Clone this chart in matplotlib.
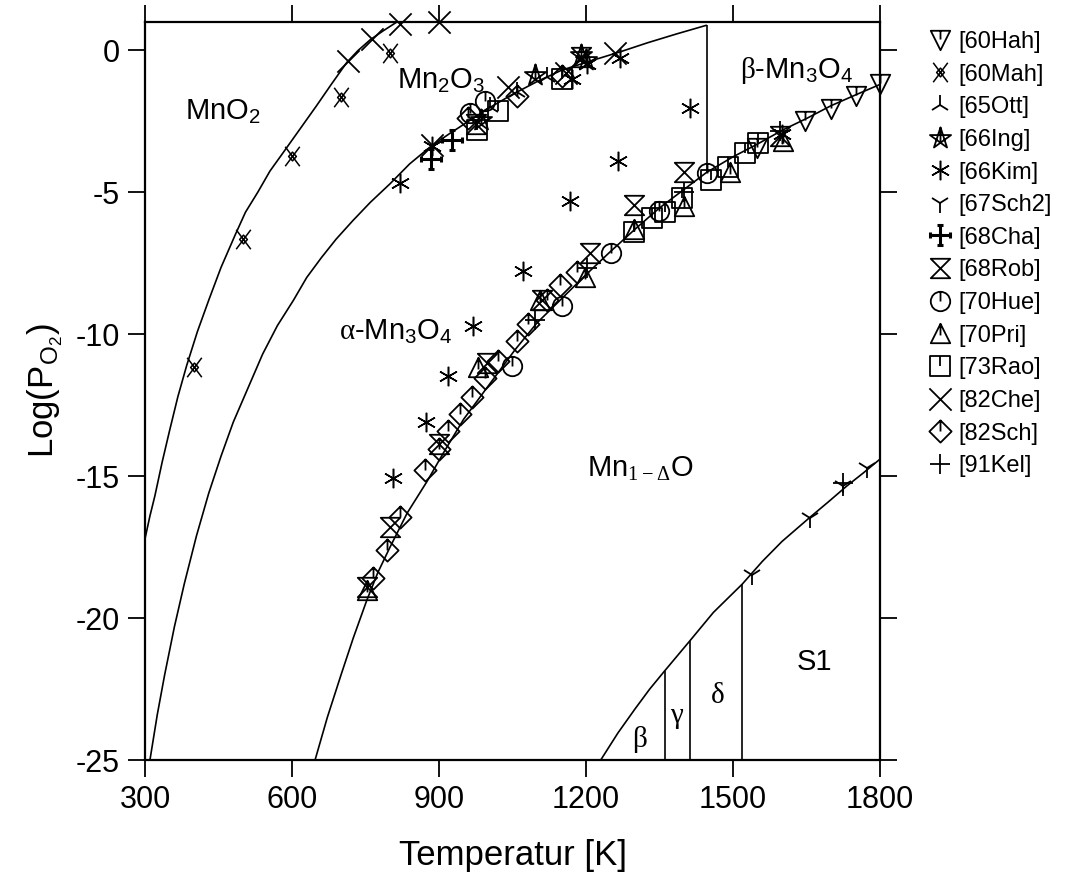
import numpy as np
import matplotlib
matplotlib.use("Agg")
import matplotlib.pyplot as plt
from matplotlib.path import Path

plt.rcParams['font.family'] = ['Liberation Sans', 'DejaVu Sans']
plt.rcParams['mathtext.fontset'] = 'custom'
plt.rcParams['mathtext.rm'] = 'Liberation Sans'
plt.rcParams['mathtext.it'] = 'Liberation Sans:italic'
plt.rcParams['mathtext.sf'] = 'Liberation Serif'
plt.rcParams['mathtext.default'] = 'regular'
plt.rcParams['axes.unicode_minus'] = False

# phase boundaries
c1_T = [300, 310, 320, 335, 350, 367, 385, 407, 430, 455, 484, 505, 530, 555, 582,
        615, 650, 680, 712, 735, 760, 787, 814]
c1_L = [-17.2, -16.4, -15.7, -14.5, -13.4, -12.2, -11.1, -9.9, -8.8, -7.65, -6.5, -5.7,
        -5.0, -4.25, -3.6, -2.8, -1.95, -1.2, -0.42, 0.0, 0.38, 0.7, 1.0]

c2_T = [310, 325, 340, 360, 380, 405, 430, 455, 480, 510, 540, 570, 603, 630, 660, 690,
        724, 760, 800, 840, 882, 920, 960, 1005, 1050, 1100, 1150, 1208, 1270, 1326, 1385, 1445]
c2_L = [-25, -23.4, -22.0, -20.3, -18.8, -17.1, -15.6, -14.3, -13.1, -11.9, -10.7, -9.7,
        -8.8, -8.0, -7.3, -6.65, -6.0, -5.35, -4.7, -4.0, -3.4, -2.95, -2.5, -2.0, -1.55,
        -1.1, -0.7, -0.38, -0.05, 0.27, 0.58, 0.88]

c3_T = [647, 672, 700, 725, 752, 775, 800, 835, 875, 910, 950, 980, 1010, 1055, 1100,
        1153, 1200, 1249, 1300, 1350, 1400, 1446, 1500, 1550, 1602, 1650, 1700, 1750, 1800]
c3_L = [-25, -23.5, -22.0, -20.7, -19.4, -18.4, -17.5, -16.3, -15.2, -14.15, -13.0, -12.3,
        -11.6, -10.55, -9.6, -8.7, -7.9, -7.1, -6.3, -5.55, -4.9, -4.3, -3.75, -3.3, -2.8,
        -2.4, -1.95, -1.57, -1.2]

c4_T = [1230, 1265, 1300, 1330, 1361, 1412, 1460, 1519, 1560, 1600, 1657, 1695, 1732, 1765, 1800]
c4_L = [-25, -24.05, -23.2, -22.5, -21.85, -20.8, -19.8, -18.8, -18.0, -17.3, -16.45,
        -15.9, -15.35, -14.9, -14.4]

# vertical boundaries: T, lower, upper
vert_T = [1446, 1361, 1412, 1519]
vert_lo = [-4.3, -25, -25, -25]
vert_hi = [0.88, -21.85, -20.8, -18.8]

# experimental points
hah_T = [1548, 1647, 1701, 1752, 1800]
hah_L = [-3.45, -2.5, -2.08, -1.62, -1.2]
mah_T = [400, 500, 600, 700, 800]
mah_L = [-11.15, -6.65, -3.73, -1.65, -0.08]
ott_T = [1005, 1060, 1120]
ott_L = [-2.0, -1.45, -0.95]
ing_T = [985, 1096, 1190, 1200]
ing_L = [-2.45, -0.85, -0.15, -0.35]
kim_T = [807, 820, 873, 885, 919, 970, 1072, 1167, 1171, 1201, 1266, 1269, 1412, 1599]
kim_L = [-15.07, -4.67, -13.1, -3.37, -11.46, -9.7, -7.78, -5.31, -1.02, -0.49, -3.9, -0.26, -2.02, -2.96]
sch2_T = [1538, 1657, 1725, 1773]
sch2_L = [-18.48, -16.48, -15.36, -14.72]
cha_T = [884, 926]
cha_L = [-3.84, -3.17]
rob_T = [752, 800, 899, 997, 1110, 1208, 1297, 1399, 1596, 975, 1190]
rob_L = [-18.9, -16.8, -13.85, -11.0, -8.8, -7.15, -5.45, -4.3, -3.0, -2.6, -0.25]
hue_T = [963, 994, 1048, 1150, 1250, 1348, 1446]
hue_L = [-2.2, -1.8, -11.13, -9.0, -7.13, -5.66, -4.31]
pri_T = [752, 980, 1106, 1198, 1297, 1399, 1494, 1603]
pri_L = [-19.0, -11.15, -8.8, -8.0, -6.3, -5.5, -4.3, -3.2]
rao_T = [977, 1020, 1150, 1297, 1334, 1361, 1395, 1456, 1490, 1524, 1552]
rao_L = [-2.8, -2.15, -1.0, -6.4, -5.9, -5.7, -5.2, -4.55, -4.1, -3.6, -3.25]
che_T = [714, 763, 820, 900, 885, 1040, 1160, 1259]
che_L = [-0.38, 0.41, 0.92, 1.0, -3.35, -1.3, -0.8, -0.08]
sch_T = [766, 793, 820, 871, 899, 919, 943, 967, 994, 1021, 1059, 1082, 1120, 1147, 1181, 960, 1060, 1150]
sch_L = [-18.6, -17.6, -16.45, -14.8, -14.05, -13.4, -12.8, -12.2, -11.55, -10.95, -10.25, -9.65, -8.8, -8.25, -7.8, -2.4, -1.6, -0.9]
kel_T = [1096, 1201, 1399, 1596, 1725]
kel_L = [-9.5, -7.66, -5.0, -2.85, -15.25]


def segs(*polys, closed=()):
    verts, codes = [], []
    for i, p in enumerate(polys):
        verts += list(p)
        codes += [Path.MOVETO] + [Path.LINETO] * (len(p) - 1)
        if i in closed:
            verts.append(p[0])
            codes.append(Path.CLOSEPOLY)
    return Path(verts, codes)


tick = [(0, 1), (0, 0)]
m_hah = segs([(-1, 1), (1, 1), (0, -1)], [(0, 1), (0, 0.1)], closed=(0,))
m_mah = segs([(-0.75, -1), (0.75, 1)], [(-0.75, 1), (0.75, -1)],
             [(0, 0.45), (0.4, 0), (0, -0.45), (-0.4, 0)], closed=(2,))
ang = np.deg2rad(90 + 144 * np.arange(5))
m_ing = segs(list(zip(np.cos(ang), np.sin(ang))), [(0, 1), (0, -0.3)], closed=(0,))
m_cha = segs([(-1, 0), (1, 0)], [(0, -1), (0, 1)],
             [(-1, -0.25), (-1, 0.25)], [(1, -0.25), (1, 0.25)],
             [(-0.25, 1), (0.25, 1)], [(-0.25, -1), (0.25, -1)])
m_rob = segs([(-1, 1), (1, 1), (-1, -1), (1, -1)], closed=(0,))
m_hue = Path.make_compound_path(Path.unit_circle(), segs(tick))
m_pri = segs([(-1, -1), (1, -1), (0, 1)], [(0, 1), (0, -0.2)], closed=(0,))
m_rao = segs([(-1, -1), (1, -1), (1, 1), (-1, 1)], tick, closed=(0,))
m_che = segs([(-1, -1), (1, 1)], [(-1, 1), (1, -1)])
m_sch = segs([(0, 1), (1, 0), (0, -1), (-1, 0)], tick, closed=(0,))

series = [
    ('[60Hah]', hah_T, hah_L, m_hah, 14),
    ('[60Mah]', mah_T, mah_L, m_mah, 14),
    ('[65Ott]', ott_T, ott_L, '2', 15),
    ('[66Ing]', ing_T, ing_L, m_ing, 16),
    ('[66Kim]', kim_T, kim_L, (6, 2, 0), 14),
    ('[67Sch2]', sch2_T, sch2_L, '1', 15),
    ('[68Cha]', cha_T, cha_L, m_cha, 15),
    ('[68Rob]', rob_T, rob_L, m_rob, 14),
    ('[70Hue]', hue_T, hue_L, m_hue, 14),
    ('[70Pri]', pri_T, pri_L, m_pri, 14),
    ('[73Rao]', rao_T, rao_L, m_rao, 14),
    ('[82Che]', che_T, che_L, m_che, 16),
    ('[82Sch]', sch_T, sch_L, m_sch, 16),
    ('[91Kel]', kel_T, kel_L, '+', 15),
]

fig = plt.figure(figsize=(10.72, 8.76), dpi=100)
ax = fig.add_axes([0.1353, 0.1324, 0.6856, 0.8425])

for T, L in [(c1_T, c1_L), (c2_T, c2_L), (c3_T, c3_L), (c4_T, c4_L)]:
    ax.plot(T, L, color='k', lw=1.2, zorder=2)
ax.vlines(vert_T, vert_lo, vert_hi, color='k', lw=1.2, zorder=2)

for lab, T, L, mk, ms in series:
    mew = {'[68Cha]': 2.2, '[66Kim]': 1.1, '[60Mah]': 1.1}.get(lab, 1.3)
    ax.plot(T, L, ls='none', marker=mk, ms=ms, mfc='none', mec='k', mew=mew,
            label=lab, clip_on=False, zorder=3)

fs = 21
ax.text(382, -2.43, r'MnO$_2$', fontsize=fs, va='baseline')
ax.text(814, -1.32, r'Mn$_2$O$_3$', fontsize=fs, va='baseline')
ax.text(1514, -0.96, r'$\mathsf{\beta}$-Mn$_3$O$_4$', fontsize=fs, va='baseline')
ax.text(695, -10.19, r'$\mathsf{\alpha}$-Mn$_3$O$_4$', fontsize=fs, va='baseline')
ax.text(1201, -15.01, r'Mn$_{\mathsf{1-\Delta}}$O', fontsize=fs, va='baseline')
ax.text(1630, -21.83, 'S1', fontsize=fs, va='baseline')
ax.text(1310, -24.53, r'$\mathsf{\beta}$', fontsize=fs, ha='center', va='baseline')
ax.text(1385, -23.7, r'$\mathsf{\gamma}$', fontsize=fs, ha='center', va='baseline')
ax.text(1467, -23.0, r'$\mathsf{\delta}$', fontsize=fs, ha='center', va='baseline')

ax.set_xlim(300, 1800)
ax.set_ylim(-25, 1)
ax.set_xticks([300, 600, 900, 1200, 1500, 1800])
ax.set_yticks([-25, -20, -15, -10, -5, 0])
ax.tick_params(direction='out', length=12, width=1.3, labelsize=22,
               top=True, right=True, pad=6)
for s in ax.spines.values():
    s.set_linewidth(1.6)
ax.set_xlabel('Temperatur [K]', fontsize=25, labelpad=17)
ax.set_ylabel(r'Log(P$_{\mathrm{O}_2}$)', fontsize=25, labelpad=8)

ax.legend(loc='upper left', bbox_to_anchor=(0.8657, 0.9646), bbox_transform=fig.transFigure,
          frameon=False, fontsize=17, handlelength=1.0, handletextpad=0.27,
          labelspacing=0.45, borderaxespad=0, borderpad=0)

fig.savefig('out.png', dpi=100)
